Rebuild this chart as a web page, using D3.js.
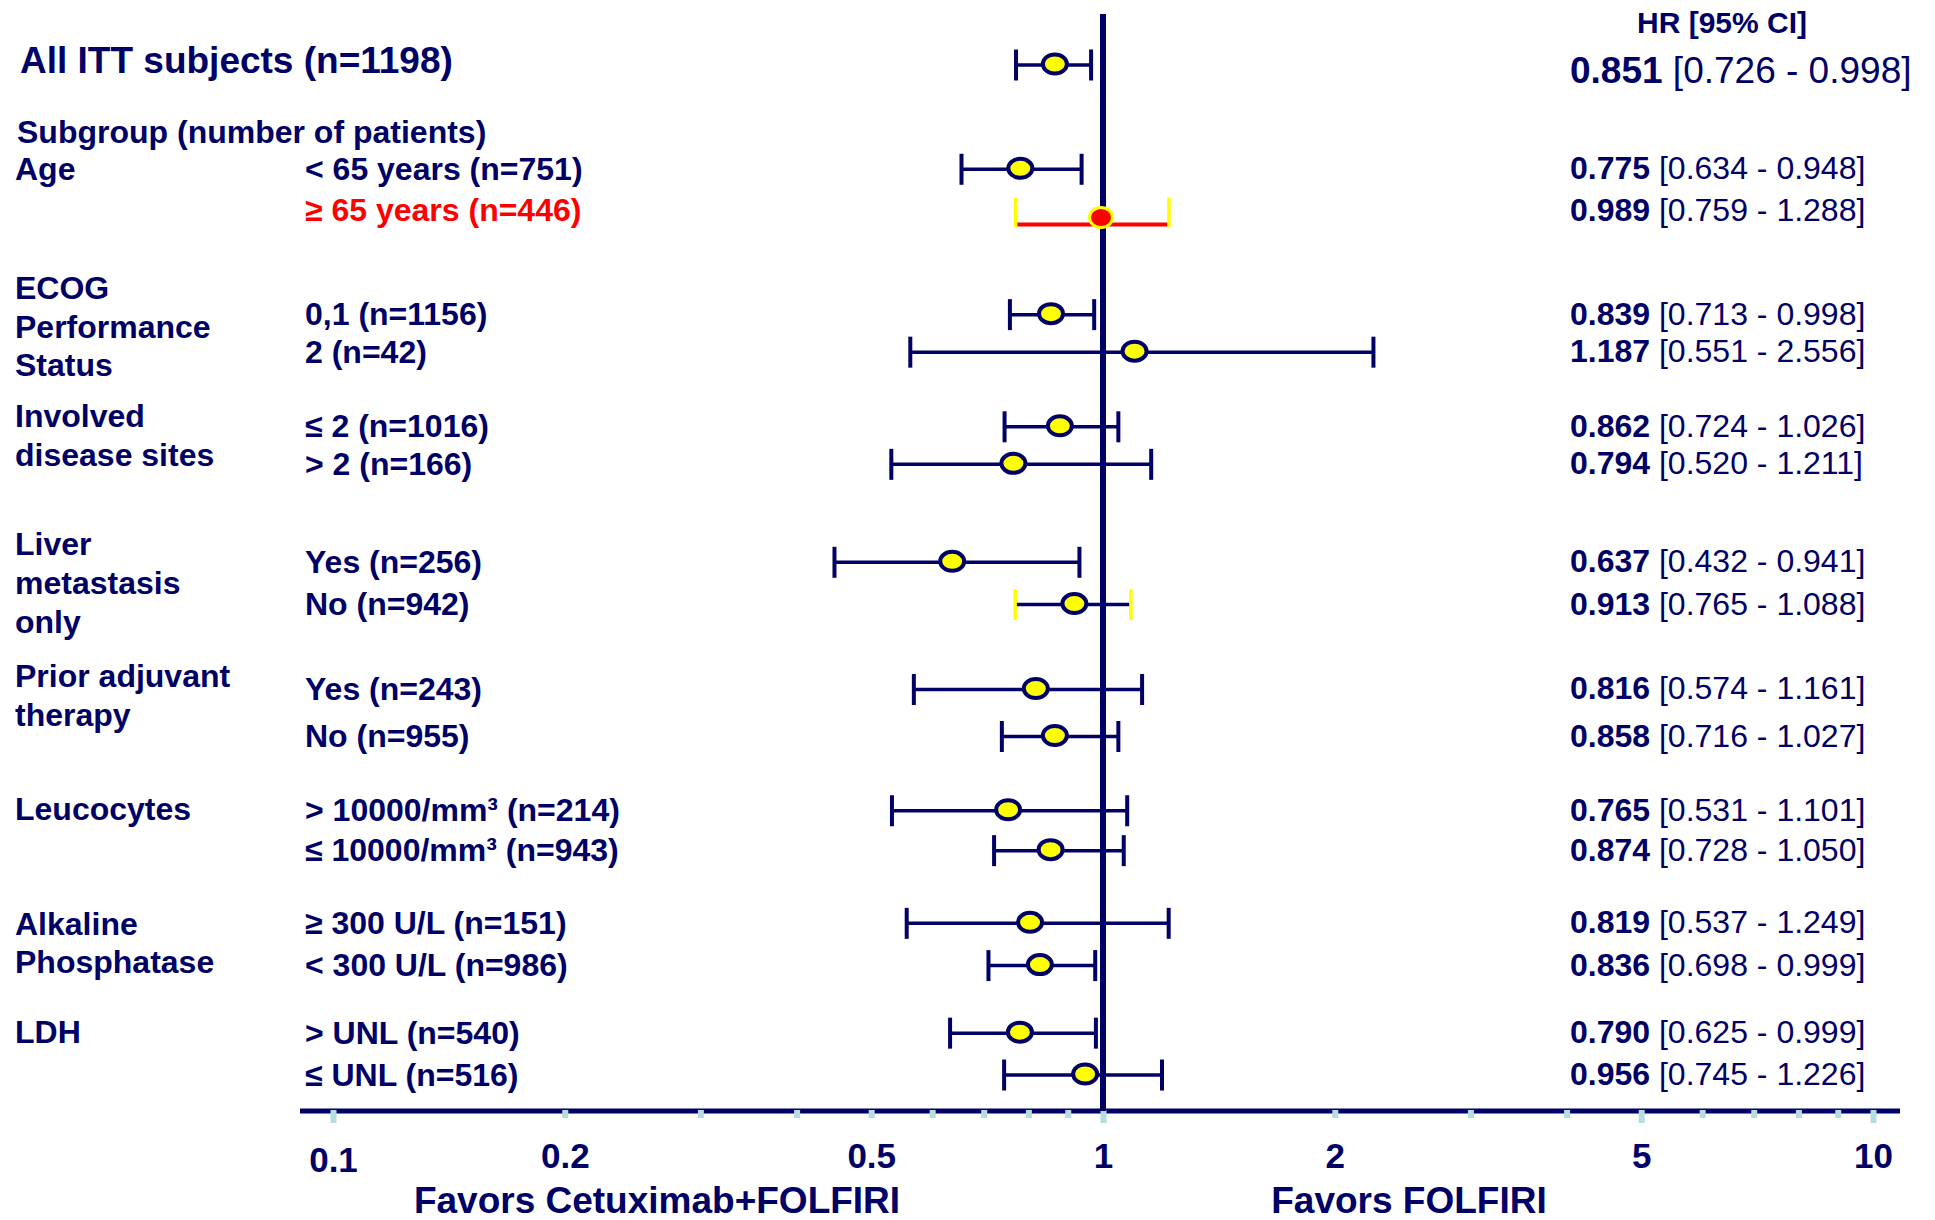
<!DOCTYPE html>
<html>
<head>
<meta charset="utf-8">
<script src="https://cdn.jsdelivr.net/npm/d3@7"></script>
<style>
  body { margin: 0; background: #fff; }
  text { font-family: "Liberation Sans", Arial, sans-serif; fill: #000066; }
</style>
</head>
<body>
<div class="chart"></div>
<script>
// Forest plot: HR by subgroup, Cetuximab+FOLFIRI vs FOLFIRI

// rows, top to bottom
const subLabels = ['All ITT subjects (n=1198)', '< 65 years (n=751)', '≥ 65 years (n=446)',
  '0,1 (n=1156)', '2 (n=42)', '≤ 2 (n=1016)', '> 2 (n=166)', 'Yes (n=256)', 'No (n=942)',
  'Yes (n=243)', 'No (n=955)', '> 10000/mm³ (n=214)', '≤ 10000/mm³ (n=943)',
  '≥ 300 U/L (n=151)', '< 300 U/L (n=986)', '> UNL (n=540)', '≤ UNL (n=516)']
// which text line of the table each row sits on
const rowLine = [0, 2.64, 3.76, 6.32, 7.27, 9.16, 10.11, 12.59, 13.66, 15.81, 17.0,
  18.88, 19.89, 21.73, 22.80, 24.51, 25.57]

const hrLabels = ['0.851', '0.775', '0.989', '0.839', '1.187', '0.862', '0.794', '0.637', '0.913',
  '0.816', '0.858', '0.765', '0.874', '0.819', '0.836', '0.790', '0.956']
const ciLabels = ['[0.726 - 0.998]', '[0.634 - 0.948]', '[0.759 - 1.288]', '[0.713 - 0.998]',
  '[0.551 - 2.556]', '[0.724 - 1.026]', '[0.520 - 1.211]', '[0.432 - 0.941]', '[0.765 - 1.088]',
  '[0.574 - 1.161]', '[0.716 - 1.027]', '[0.531 - 1.101]', '[0.728 - 1.050]', '[0.537 - 1.249]',
  '[0.698 - 0.999]', '[0.625 - 0.999]', '[0.745 - 1.226]']

// where the marks are actually drawn
const hrPlot = [0.866, 0.781, 0.994, 0.856, 1.099, 0.879, 0.765, 0.637, 0.918, 0.818, 0.866,
  0.753, 0.855, 0.804, 0.828, 0.780, 0.948]
const ciLow = [0.771, 0.655, 0.770, 0.757, 0.562, 0.745, 0.531, 0.448, 0.769, 0.568, 0.739,
  0.532, 0.722, 0.556, 0.710, 0.633, 0.744]
const ciHigh = [0.965, 0.938, 1.218, 0.974, 2.245, 1.047, 1.155, 0.932, 1.087, 1.124, 1.047,
  1.075, 1.064, 1.217, 0.977, 0.979, 1.193]

const redRow = 2
const yellowCapRows = [2, 8]

const groupLabels = [['Subgroup (number of patients)'], ['Age'], ['ECOG', 'Performance', 'Status'],
  ['Involved', 'disease sites'], ['Liver', 'metastasis', 'only'], ['Prior adjuvant', 'therapy'],
  ['Leucocytes'], ['Alkaline', 'Phosphatase'], ['LDH']]
const groupLine = [1.72, 2.64, 5.66, 8.91, 12.15, 15.49, 18.84, 21.75, 24.50]

const tickValues = [0.1, 0.2, 0.3, 0.4, 0.5, 0.6, 0.7, 0.8, 0.9, 1, 2, 3, 4, 5, 6, 7, 8, 9, 10]
const majorTicks = [0.1, 1, 5, 10]
const tickLabels = [0.1, 0.2, 0.5, 1, 2, 5, 10]

// canvas
const width = 1935
const height = 1220
const navy = '#000066'
const axisY = 1111

const svg = d3.select('.chart').append('svg')
  .attr('width', width)
  .attr('height', height)

const x = d3.scaleLog().domain([0.1, 10]).range([333, 1873])
const y = d3.scaleLinear().domain([0, 1]).range([64, 103.5])

const rows = subLabels.map((label, i) => ({
  i, label, line: rowLine[i], hr: hrPlot[i], lo: ciLow[i], hi: ciHigh[i],
  hrText: hrLabels[i], ciText: ciLabels[i]
}))

// group labels (left column)
groupLabels.forEach((lines, g) => {
  lines.forEach((t, k) => {
    svg.append('text')
      .attr('x', g === 0 ? 17 : 15)
      .attr('y', y(groupLine[g] + k * 0.98) + 11.5)
      .attr('font-size', 32)
      .attr('font-weight', 'bold')
      .text(t)
  })
})

// subgroup labels
svg.selectAll('.sub')
  .data(rows)
  .enter()
  .append('text')
  .attr('class', 'sub')
  .attr('x', d => d.i === 0 ? 20 : 305)
  .attr('y', d => y(d.line) + (d.i === 0 ? 9 : d.i === redRow ? 8 : 11.5))
  .attr('font-size', d => d.i === 0 ? 37 : 32)
  .attr('font-weight', 'bold')
  .style('fill', d => d.i === redRow ? '#ff0000' : navy)
  .text(d => d.label)

// HR column
svg.append('text')
  .attr('x', 1722)
  .attr('y', 33)
  .attr('text-anchor', 'middle')
  .attr('font-size', 30)
  .attr('font-weight', 'bold')
  .text('HR [95% CI]')

const hrText = svg.selectAll('.hr')
  .data(rows)
  .enter()
  .append('text')
  .attr('class', 'hr')
  .attr('x', 1570)
  .attr('y', d => y(d.line) + (d.i === 0 ? 19 : d.i === redRow ? 8 : 11))
  .attr('font-size', d => d.i === 0 ? 37 : 32)
hrText.append('tspan').attr('font-weight', 'bold').text(d => d.hrText)
hrText.append('tspan').text(d => ' ' + d.ciText)

// x axis line
svg.append('line')
  .attr('x1', 300).attr('x2', 1900)
  .attr('y1', axisY).attr('y2', axisY)
  .attr('stroke', navy)
  .attr('stroke-width', 5)

// ticks
const tickAxis = d3.axisBottom(x).tickValues(tickValues).tickSize(13).tickFormat('')
const tickG = svg.append('g')
  .attr('transform', 'translate(0,' + (axisY - 1) + ')')
  .call(tickAxis)
tickG.select('.domain').remove()
tickG.selectAll('.tick line')
  .attr('stroke', '#b4dce2')
  .attr('stroke-width', 6)
  .attr('y2', d => majorTicks.includes(d) ? 13 : 8)

// tick labels
const labelAxis = d3.axisBottom(x).tickValues(tickLabels).tickSize(0).tickFormat(d => String(d))
const labelG = svg.append('g')
  .attr('transform', 'translate(0,' + axisY + ')')
  .call(labelAxis)
labelG.select('.domain').remove()
labelG.selectAll('.tick text')
  .attr('y', d => d === 0.1 ? 61 : 57)
  .attr('dy', 0)
  .attr('font-size', 35)
  .attr('font-weight', 'bold')
  .attr('font-family', '"Liberation Sans", Arial, sans-serif')
  .style('fill', navy)

// favours
svg.append('text')
  .attr('x', 657).attr('y', 1213)
  .attr('text-anchor', 'middle')
  .attr('font-size', 37).attr('font-weight', 'bold')
  .text('Favors Cetuximab+FOLFIRI')
svg.append('text')
  .attr('x', 1409).attr('y', 1213)
  .attr('text-anchor', 'middle')
  .attr('font-size', 37).attr('font-weight', 'bold')
  .text('Favors FOLFIRI')

// CI lines
svg.selectAll('.ci')
  .data(rows)
  .enter()
  .append('line')
  .attr('class', 'ci')
  .attr('x1', d => x(d.lo))
  .attr('x2', d => x(d.hi))
  .attr('y1', d => y(d.line) + (d.i === redRow ? 12 : 1))
  .attr('y2', d => y(d.line) + (d.i === redRow ? 12 : 1))
  .attr('stroke', d => d.i === redRow ? '#ff0000' : navy)
  .attr('stroke-width', d => d.i === redRow ? 4 : 3.5)

// whisker caps
const caps = []
rows.forEach(d => { caps.push({ d, v: d.lo }); caps.push({ d, v: d.hi }) })
svg.selectAll('.cap')
  .data(caps)
  .enter()
  .append('line')
  .attr('class', 'cap')
  .attr('x1', c => x(c.v)).attr('x2', c => x(c.v))
  .attr('y1', c => y(c.d.line) + (c.d.i === redRow ? -15 : -14.5))
  .attr('y2', c => y(c.d.line) + (c.d.i === redRow ? 15 : 16.5))
  .attr('stroke', c => yellowCapRows.includes(c.d.i) ? '#ffff00' : navy)
  .attr('stroke-width', c => yellowCapRows.includes(c.d.i) ? 3.5 : 4)

// reference line at HR = 1
svg.append('line')
  .attr('x1', x(1)).attr('x2', x(1))
  .attr('y1', 14).attr('y2', axisY)
  .attr('stroke', navy)
  .attr('stroke-width', 6)

// point estimates
svg.selectAll('.pt')
  .data(rows)
  .enter()
  .append('ellipse')
  .attr('class', 'pt')
  .attr('cx', d => x(d.hr))
  .attr('cy', d => y(d.line) + (d.i === redRow ? 5 : 0))
  .attr('rx', d => d.i === redRow ? 11.5 : 12)
  .attr('ry', d => d.i === redRow ? 10 : 9.5)
  .attr('fill', d => d.i === redRow ? '#ff0000' : '#ffff00')
  .attr('stroke', d => d.i === redRow ? '#ffff00' : navy)
  .attr('stroke-width', d => d.i === redRow ? 3 : 4)
</script>
</body>
</html>
